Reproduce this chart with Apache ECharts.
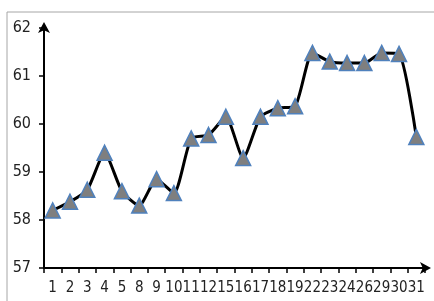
<!DOCTYPE html>
<html>
<head>
<meta charset="utf-8">
<script src="https://cdn.jsdelivr.net/npm/echarts@6/dist/echarts.min.js"></script>
<style>
  html, body { margin: 0; padding: 0; background: #fff; }
  #chart { width: 434px; height: 301px; }
</style>
</head>
<body>
<div id="chart"></div>
<script>
// days on the x axis
const days = ["1", "2", "3", "4", "5", "8", "9", "10", "11", "12", "15",
  "16", "17", "18", "19", "22", "23", "24", "26", "29", "30", "31"];
// values
const values = [58.2, 58.38, 58.63, 59.4, 58.6, 58.3, 58.85, 58.56, 59.7, 59.77, 60.15,
  59.29, 60.15, 60.33, 60.37, 61.48, 61.3, 61.27, 61.27, 61.48, 61.46, 59.73];
const yMin = 57;
const yMax = 62;

const chart = echarts.init(document.getElementById("chart"));

chart.setOption({
  animation: false,
  grid: { left: 44, right: 9, top: 28, bottom: 33 },
  graphic: [
    {
      type: "rect",
      shape: { x: 7, y: 12, width: 600, height: 400 },
      style: { fill: "none", stroke: "#a6a6a6", lineWidth: 1 },
      silent: true,
    },
  ],
  xAxis: {
    type: "category",
    data: days,
    boundaryGap: true,
    axisLine: {
      lineStyle: { color: "#000", width: 2 },
      symbol: ["none", "arrow"],
      symbolSize: [9, 11],
      symbolOffset: [0, 6],
    },
    axisTick: { show: true, length: 5, lineStyle: { color: "#000", width: 1.5 } },
    axisLabel: {
      color: "#222",
      fontFamily: "Liberation Sans Narrow, DejaVu Sans Condensed, sans-serif",
      fontSize: 15,
      margin: 13,
      interval: 0,
    },
  },
  yAxis: {
    type: "value",
    min: yMin,
    max: yMax,
    interval: 1,
    splitLine: { show: false },
    axisLine: {
      show: true,
      lineStyle: { color: "#000", width: 2 },
      symbol: ["none", "arrow"],
      symbolSize: [9, 11],
      symbolOffset: [0, 6],
    },
    axisTick: { show: true, length: 5, lineStyle: { color: "#000", width: 1.5 } },
    axisLabel: {
      color: "#222",
      fontFamily: "Liberation Sans Narrow, DejaVu Sans Condensed, sans-serif",
      fontSize: 16,
      margin: 13,
    },
  },
  series: [
    {
      type: "line",
      data: values,
      smooth: 0.2,
      lineStyle: { color: "#000", width: 3 },
      symbol: "triangle",
      symbolSize: 15,
      itemStyle: { color: "#7f7f7f", borderColor: "#4f81bd", borderWidth: 1.5 },
    },
  ],
});
</script>
</body>
</html>
